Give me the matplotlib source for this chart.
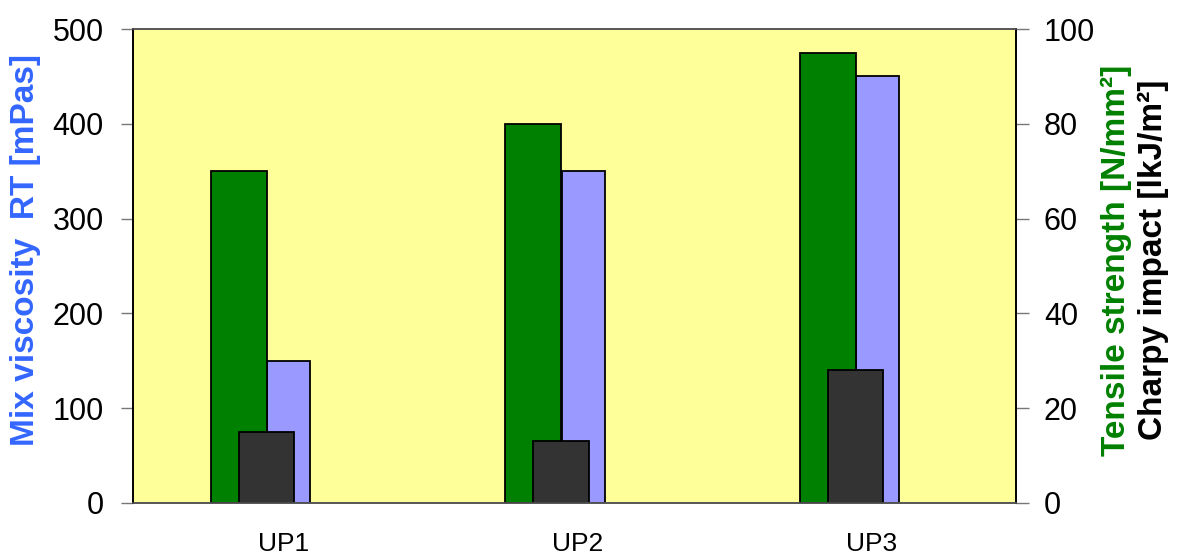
import matplotlib
matplotlib.use("Agg")
import matplotlib.pyplot as plt
import numpy as np

plt.rcParams['font.family'] = ['Liberation Sans', 'DejaVu Sans']

categories = ["UP1", "UP2", "UP3"]
viscosity = [150, 350, 450]          # mPas, left axis
tensile = [70, 80, 95]               # N/mm², right axis
charpy = [15, 13, 28]                # kJ/m², right axis

left_ticks = [0, 100, 200, 300, 400, 500]
right_ticks = [0, 20, 40, 60, 80, 100]

fig = plt.figure(figsize=(11.79, 5.55), dpi=100)
ax1 = fig.add_axes([0.1128, 0.0937, 0.7490, 0.8540])
ax2 = ax1.twinx()

x = np.arange(len(categories))
edge = dict(edgecolor='black', linewidth=1.3)

ax1.set_facecolor('#FFFF99')
ax2.patch.set_visible(False)

# viscosity bars on the primary axis, behind the others
ax1.bar(x + 0.029, viscosity, width=0.146, align='center', color='#9999FF', **edge)
# tensile strength and Charpy impact share the secondary axis
ax2.bar(x - 0.140, tensile, width=0.190, align='center', color='#008000', **edge)
ax2.bar(x - 0.046, charpy, width=0.188, align='center', color='#333333', **edge)

ax1.set_xlim(-0.5, len(categories) - 0.5)
ax1.set_ylim(0, 500)
ax2.set_ylim(0, 100)
ax1.set_yticks(left_ticks)
ax2.set_yticks(right_ticks)
ax1.set_xticks(x + 0.01)
ax1.set_xticklabels(categories, fontsize=19)
ax1.tick_params(axis='x', length=0, pad=21)
ax1.tick_params(axis='y', labelsize=22, length=9, width=1, color='#777777', pad=12)
ax2.tick_params(axis='y', labelsize=22, length=9, width=1, color='#777777', pad=11)

for a in (ax1, ax2):
    a.spines['top'].set_color('#555555')
    a.spines['bottom'].set_color('#555555')
    a.spines['left'].set_color('black')
    a.spines['right'].set_color('black')
    for s in a.spines.values():
        s.set_linewidth(1.2)

label_style = dict(rotation=90, ha='center', va='center', fontsize=24,
                   fontweight='bold')
ax1.text(-0.122, 0.534, "Mix viscosity  RT [mPas]", transform=ax1.transAxes,
         color='#3366FF', **label_style)
ax2.text(1.114, 0.512, "Tensile strength [N/mm²]", transform=ax2.transAxes,
         color='#008000', **label_style)
ax2.text(1.155, 0.514, "Charpy impact [lkJ/m²]", transform=ax2.transAxes,
         color='black', **label_style)

fig.savefig("out.png", dpi=100)
